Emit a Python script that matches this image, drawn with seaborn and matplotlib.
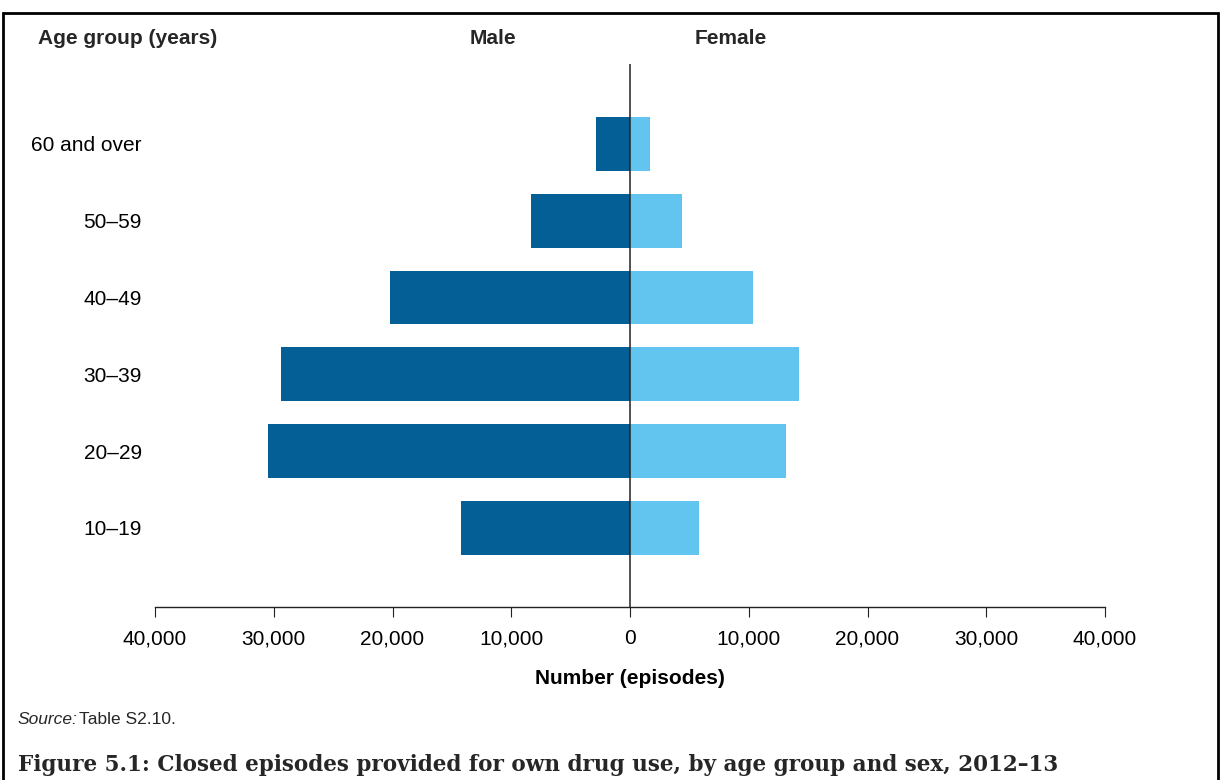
import matplotlib
matplotlib.use("Agg")
import matplotlib.pyplot as plt
import seaborn as sns
import pandas as pd
from matplotlib.ticker import FuncFormatter
from matplotlib.patches import Rectangle

age_groups = ["60 and over", "50–59", "40–49", "30–39", "20–29", "10–19"]
male = [2900, 8350, 20200, 29400, 30500, 14250]
female = [1650, 4420, 10380, 14220, 13140, 5850]
x_ticks = [-40000, -30000, -20000, -10000, 0, 10000, 20000, 30000, 40000]

sns.set_theme(style="white")
plt.rcParams["font.family"] = ["Liberation Sans", "DejaVu Sans"]

df = pd.DataFrame({
    "age": age_groups * 2,
    "value": [-v for v in male] + female,
    "sex": ["Male"] * len(male) + ["Female"] * len(female),
})

W, H = 1221, 780
fig = plt.figure(figsize=(W / 100, H / 100), dpi=100)
ax = fig.add_axes([155 / W, 1 - 607 / H, (1105 - 155) / W, (607 - 64) / H])

sns.barplot(data=df, x="value", y="age", hue="sex", order=age_groups,
            hue_order=["Male", "Female"], dodge=False, width=0.7,
            palette={"Male": "#035f95", "Female": "#61c5f0"},
            orient="h", legend=False, ax=ax, saturation=1, linewidth=0)

ax.set_xlim(-40000, 40000)
ax.set_ylim(6.03, -1.04)
ax.set_xticks(x_ticks)
ax.xaxis.set_major_formatter(FuncFormatter(lambda v, p: f"{abs(int(v)):,}"))
ax.axvline(0, color="#222222", lw=1.1, zorder=5)

FS = 15
for s in ["left", "right", "top"]:
    ax.spines[s].set_visible(False)
ax.spines["bottom"].set_color("#222222")
ax.spines["bottom"].set_linewidth(1.0)
ax.tick_params(axis="x", bottom=True, length=7, width=0.8, color="#222222",
               labelsize=FS, pad=9, labelcolor="black")
ax.tick_params(axis="y", left=False, labelsize=FS, pad=3.5, labelcolor="black")
ax.set_ylabel("")
ax.set_xlabel("Number (episodes)", fontsize=FS, fontweight="bold", labelpad=15, color="black")

fig.text(38 / W, 1 - 38 / H, "Age group (years)", fontsize=FS, fontweight="bold",
         ha="left", va="center")
fig.text(493 / W, 1 - 38 / H, "Male", fontsize=FS, fontweight="bold", ha="center", va="center")
fig.text(731 / W, 1 - 38 / H, "Female", fontsize=FS, fontweight="bold", ha="center", va="center")

fig.text(18 / W, 1 - 720 / H, "Source:", fontsize=12.5, style="italic", ha="left", va="center")
fig.text(79 / W, 1 - 720 / H, "Table S2.10.", fontsize=12.5, ha="left", va="center")

fig.text(18 / W, 1 - 765 / H,
         "Figure 5.1: Closed episodes provided for own drug use, by age group and sex, 2012–13",
         fontsize=15.5, fontweight="bold", family=["DejaVu Serif"],
         ha="left", va="center")

fig.patches.append(Rectangle((3 / W, -0.1), (1218 - 3) / W, 1 - 13 / H + 0.1,
                             transform=fig.transFigure, fill=False, edgecolor="black",
                             linewidth=2, zorder=0))

fig.savefig("out.png", dpi=100)
